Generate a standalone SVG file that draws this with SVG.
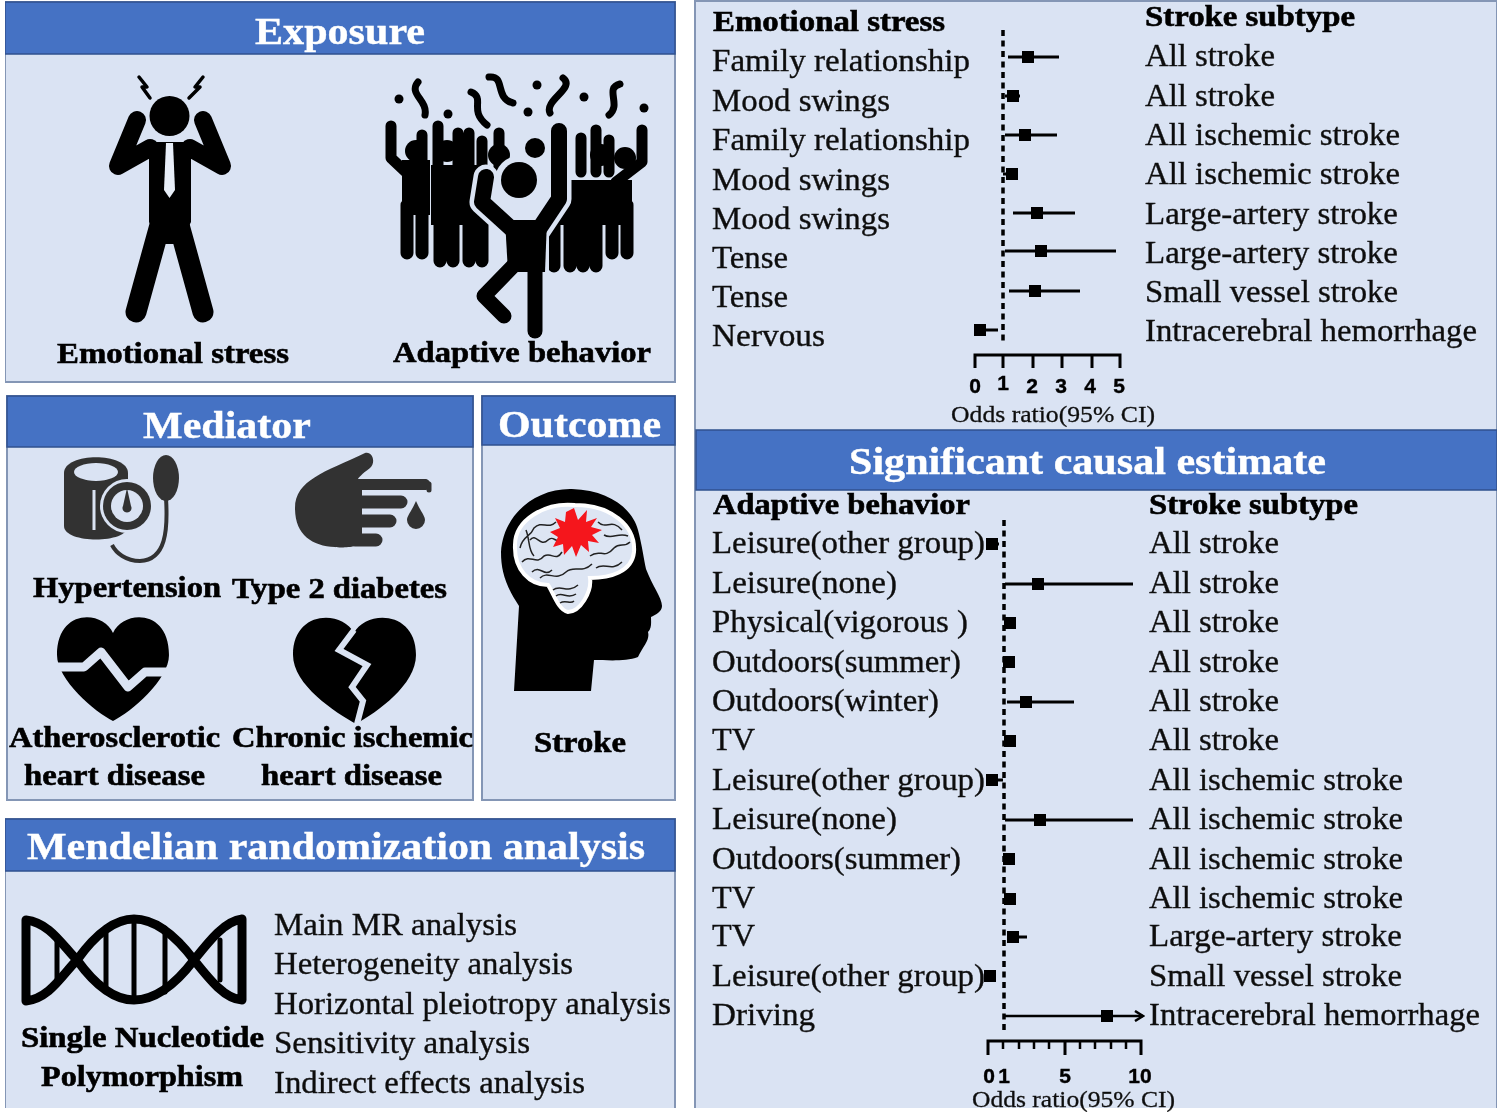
<svg xmlns="http://www.w3.org/2000/svg" width="1497" height="1112" viewBox="0 0 1497 1112">
<style>
.body{fill:#dae3f3;stroke:#8496b5;stroke-width:2}
.head{fill:#4472c4;stroke:#2f528f;stroke-width:1.5}
text{font-family:"Liberation Serif","Times New Roman",serif}
.h{font-weight:700;font-size:38px;fill:#fff;stroke:#fff;stroke-width:.4}
.b{font-weight:700;font-size:30px;fill:#000;stroke:#000;stroke-width:.6}
.r{font-size:31px;fill:#111;stroke:#111;stroke-width:.35;transform:translateY(1px)}
.t{font-family:"Liberation Sans",Arial,sans-serif;font-weight:700;font-size:21px;fill:#000;stroke:#000;stroke-width:.4;text-anchor:middle}
.o{font-size:23px;fill:#111;stroke:#111;stroke-width:.3}
.k{fill:none;stroke:#000;stroke-linecap:round;stroke-linejoin:round}
.g{fill:none;stroke:#dae3f3;stroke-linecap:round;stroke-linejoin:round}
.ci{stroke:#000;stroke-width:3;fill:none}
.dash{stroke:#000;stroke-width:3.500;stroke-dasharray:6 4.5;fill:none}
.ax{stroke:#000;stroke-width:3;fill:none}
</style>
<defs>
<filter id="soft" x="0" y="0" width="1" height="1"><feGaussianBlur stdDeviation="0.75"/></filter>
<marker id="open" markerWidth="12" markerHeight="12" refX="10" refY="6" orient="auto" markerUnits="userSpaceOnUse"><path d="M2,1 L10,6 L2,11" fill="none" stroke="#000" stroke-width="2.500"/></marker>
</defs>
<rect width="1497" height="1112" fill="#fff"/>
<g filter="url(#soft)">
<g id="exposure">
<rect class="body" x="5" y="2" width="670" height="380"/>
<rect class="head" x="5" y="2" width="670" height="52"/>
<text class="h" x="255" y="44" textLength="170" lengthAdjust="spacingAndGlyphs">Exposure</text>
<g id="icon-stress">
<circle cx="169.500" cy="116" r="20"/>
<path d="M149,142H191V222L180,244H160L149,222Z"/>
<path class="k" stroke-width="18" d="M137,120L118,166L150,148M203,120L222,166L190,148"/>
<path class="k" stroke-width="21" d="M160,225L136,312M179,225L203,312"/>
<path d="M166,143H173L175,190L169.500,198L164,190Z" fill="#e8eef8"/>
<path class="k" stroke-width="3.500" d="M139,77L147,87L142,87L150,98M203,77L195,87L200,87L189,98"/>
</g>
<g id="icon-crowd">
<circle cx="399" cy="99" r="4.500"/><circle cx="448" cy="114" r="4.500"/><circle cx="537" cy="85" r="4.500"/><circle cx="528" cy="112" r="4.500"/><circle cx="584" cy="97" r="4.500"/><circle cx="644" cy="108" r="4.500"/>
<path class="k" stroke-width="7" d="M418,82C408,94 428,100 425,115M471,92C486,98 468,110 487,125M489,77C506,75 494,98 513,103M563,78C576,88 544,100 550,113M620,84C604,88 622,105 609,115"/>
<g id="crowd-back">
<circle cx="416" cy="151" r="11"/><circle cx="447" cy="151" r="11"/><circle cx="499" cy="155" r="11"/><circle cx="535" cy="148" r="10"/><circle cx="625" cy="158" r="11"/><circle cx="601" cy="155" r="11"/>
<path d="M402,160H430V215H402ZM431,165H490V225H431ZM550,180H632V225H550Z"/>
<path class="k" stroke-width="11" d="M391,126V158L409,175M422,135V170M438,126V172M458,133V172M469,133V172M482,141V172M499,133V172M581,138V172M596,130V172M609,140V172M642,130V162L616,182"/>
<path class="k" stroke-width="13" d="M407,205V253M422,205V253M440,205V261M453,205V261M469,205V261M482,205V261M554,205V266M570,205V266M583,205V266M596,205V266M612,205V253M627,205V253"/>
</g>
<g id="crowd-front">
<circle cx="519" cy="180" r="24" fill="#dae3f3"/>
<path class="g" stroke-width="25" d="M486,177L482,202L515,232V266L484,296L504,318M559,131V199L537,232"/>
<path d="M500,212H549V270H500Z" fill="#dae3f3"/>
<circle cx="519" cy="180" r="18"/>
<path class="k" stroke-width="16" d="M486,177L482,202L515,232M559,131V199L537,232"/>
<path d="M505,220H547L545,272H508Z"/>
<path class="k" stroke-width="15" d="M535,262V331"/>
<path class="k" stroke-width="15" d="M517,262L484,296L504,316"/>
</g>
</g>
<text class="b" x="57" y="363" textLength="232" lengthAdjust="spacingAndGlyphs">Emotional stress</text>
<text class="b" x="393" y="362" textLength="258" lengthAdjust="spacingAndGlyphs">Adaptive behavior</text>
</g>
<g id="mediator">
<rect class="body" x="7" y="396" width="466" height="404"/>
<rect class="head" x="7" y="396" width="466" height="51"/>
<text class="h" x="143" y="438" textLength="168" lengthAdjust="spacingAndGlyphs">Mediator</text>
<g id="icon-bp" fill="#333">
<path d="M64,473C64,452 128,452 128,473V526C128,544 64,544 64,526Z"/>
<ellipse cx="96" cy="472" rx="22" ry="9" fill="#dae3f3"/>
<path d="M94,490V530" stroke="#dae3f3" stroke-width="3"/>
<circle cx="127" cy="506" r="27" fill="#dae3f3"/>
<circle cx="127" cy="506" r="24"/>
<circle cx="127" cy="506" r="16" fill="#dae3f3"/>
<path d="M127,488L131,506A4.500,4.500 0 1 1 123,506Z"/>
<ellipse cx="166" cy="478" rx="13" ry="23"/>
<path d="M166,498C168,530 166,560 140,561C126,561 116,553 112,545" fill="none" stroke="#333" stroke-width="4"/>
</g>
<g id="icon-hand" fill="#333">
<path d="M295,508C295,480 325,472 365,453C373,451 376,463 370,468C362,474 358,478 358,479H425C432,479 432,490 425,490H362V540C362,548 340,548 335,547C312,546 295,535 295,508Z"/>
<path d="M358,502H401M358,521H390M355,540H376" stroke="#333" stroke-width="13" stroke-linecap="round"/>
<path d="M416,501C411,512 407,516 407,520A9,9 0 0 0 425,520C425,516 421,512 416,501Z"/>
<path d="M429,484V490" stroke="#333" stroke-width="5" stroke-linecap="round"/>
</g>
<g id="icon-heart">
<path d="M113,633C103,610 57,608 57,655C57,680 95,712 113,721C131,712 169,680 169,655C169,608 123,610 113,633Z"/>
<path class="g" stroke-width="9" style="stroke-linecap:butt" d="M52,667H84L101,652L128,687L145,672H175"/>
</g>
<g id="icon-broken-heart">
<path d="M354,633C342,610 293,610 293,655C293,685 335,712 356,724C377,712 416,685 416,655C416,610 366,610 354,633Z"/>
<path class="g" stroke-width="6" style="stroke-linecap:butt;stroke-linejoin:miter" d="M354,630L339,650L367,665L352,687L363,701L356,728"/>
</g>
<text class="b" x="33" y="597" textLength="188" lengthAdjust="spacingAndGlyphs">Hypertension</text>
<text class="b" x="232" y="598" textLength="215" lengthAdjust="spacingAndGlyphs">Type 2 diabetes</text>
<text class="b" x="9" y="747" textLength="211" lengthAdjust="spacingAndGlyphs">Atherosclerotic</text>
<text class="b" x="232" y="747" textLength="241" lengthAdjust="spacingAndGlyphs">Chronic ischemic</text>
<text class="b" x="24" y="785" textLength="181" lengthAdjust="spacingAndGlyphs">heart disease</text>
<text class="b" x="261" y="785" textLength="181" lengthAdjust="spacingAndGlyphs">heart disease</text>
</g>
<g id="outcome">
<rect class="body" x="482" y="396" width="193" height="404"/>
<rect class="head" x="482" y="396" width="193" height="49"/>
<text class="h" x="498" y="437" textLength="163" lengthAdjust="spacingAndGlyphs">Outcome</text>
<g id="icon-head">
<path d="M514,691L519,606C505,585 501,570 501,552C503,515 535,488 572,489C610,490 633,510 638,530C642,545 644,560 646,569C652,585 662,598 662,606C662,612 655,615 651,617C651,622 652,628 648,632C650,640 644,645 638,657C625,662 605,660 594,660L591,691Z"/>
<path d="M515,545C515,520 545,502 575,505C610,505 636,525 634,552C632,572 610,578 590,578C592,592 580,612 568,612C558,610 553,592 548,585C530,585 514,570 515,545Z" fill="#dde5f3" stroke="#fff" stroke-width="4"/>
<path d="M520,548C523,535 530,538 534,528C542,520 548,530 556,522M522,562C530,553 536,566 544,556C552,552 556,562 562,552M532,572C540,564 544,578 552,570M540,578C548,570 556,582 566,572C574,565 582,574 592,564M530,540C536,532 540,548 548,540C554,534 556,546 564,538M590,556C600,548 604,560 614,548C620,542 624,548 630,542M598,522C606,530 612,518 622,530M604,535C612,540 618,532 628,536M596,568C604,562 612,572 622,562M553,590C560,584 568,594 578,585M556,596C562,591 568,600 576,594M560,603C566,599 570,605 574,601M526,530C530,540 528,550 534,556" fill="none" stroke="#222" stroke-width="1.500"/>
<path d="M574,508L578,520L587,510L586,522L597,518L591,527L602,530L592,535L599,543L588,541L589,552L581,545L576,557L572,546L564,555L563,544L553,547L558,537L550,532L560,528L555,518L565,522L566,512Z" fill="#f5121b"/>
</g>
<text class="b" x="534" y="752" textLength="92" lengthAdjust="spacingAndGlyphs">Stroke</text>
</g>
<g id="mr-analysis">
<path class="body" d="M5,1108V819H675V1108"/>
<rect class="head" x="5" y="819" width="670" height="52"/>
<text class="h" x="27" y="859" textLength="618" lengthAdjust="spacingAndGlyphs">Mendelian randomization analysis</text>
<g id="icon-dna">
<path class="k" stroke-width="9" d="M26,920C50,923 62,945 77,960C95,985 115,1000 134,1000C155,1000 175,985 194,960C210,940 225,921 242,919M26,1001C50,998 62,975 77,960C95,935 115,919 134,919C155,919 175,935 194,960C210,980 225,999 242,1000M26,920V1001M242,919V1000"/>
<path class="k" stroke-width="5" d="M57,940V980M106,928V992M134,919V1000M165,928V992M220,940V980"/>
</g>
<text class="b" x="21" y="1047" textLength="243" lengthAdjust="spacingAndGlyphs">Single Nucleotide</text>
<text class="b" x="41" y="1086" textLength="202" lengthAdjust="spacingAndGlyphs">Polymorphism</text>
<text class="r" x="274" y="934" textLength="243" lengthAdjust="spacingAndGlyphs">Main MR analysis</text>
<text class="r" x="274" y="973" textLength="299" lengthAdjust="spacingAndGlyphs">Heterogeneity analysis</text>
<text class="r" x="274" y="1013" textLength="397" lengthAdjust="spacingAndGlyphs">Horizontal pleiotropy analysis</text>
<text class="r" x="274" y="1052" textLength="256" lengthAdjust="spacingAndGlyphs">Sensitivity analysis</text>
<text class="r" x="274" y="1092" textLength="311" lengthAdjust="spacingAndGlyphs">Indirect effects analysis</text>
</g>
<g id="estimate-panel">
<path class="body" d="M695,1108V1H1497V1108"/>
<rect class="head" x="696" y="430" width="801" height="60"/>
<text class="h" x="849" y="474" textLength="477" lengthAdjust="spacingAndGlyphs">Significant causal estimate</text>
</g>
<g id="forest-emotional">
<text class="b" x="713" y="31" textLength="232" lengthAdjust="spacingAndGlyphs">Emotional stress</text>
<text class="b" x="1145" y="26" textLength="210" lengthAdjust="spacingAndGlyphs">Stroke subtype</text>
<text class="r" x="712" y="70" textLength="258" lengthAdjust="spacingAndGlyphs">Family relationship</text>
<text class="r" x="712" y="110" textLength="178" lengthAdjust="spacingAndGlyphs">Mood swings</text>
<text class="r" x="712" y="149" textLength="258" lengthAdjust="spacingAndGlyphs">Family relationship</text>
<text class="r" x="712" y="189" textLength="178" lengthAdjust="spacingAndGlyphs">Mood swings</text>
<text class="r" x="712" y="228" textLength="178" lengthAdjust="spacingAndGlyphs">Mood swings</text>
<text class="r" x="712" y="267" textLength="76" lengthAdjust="spacingAndGlyphs">Tense</text>
<text class="r" x="712" y="306" textLength="76" lengthAdjust="spacingAndGlyphs">Tense</text>
<text class="r" x="712" y="345" textLength="113" lengthAdjust="spacingAndGlyphs">Nervous</text>
<text class="r" x="1145" y="65" textLength="130" lengthAdjust="spacingAndGlyphs">All stroke</text>
<text class="r" x="1145" y="105" textLength="130" lengthAdjust="spacingAndGlyphs">All stroke</text>
<text class="r" x="1145" y="144" textLength="255" lengthAdjust="spacingAndGlyphs">All ischemic stroke</text>
<text class="r" x="1145" y="183" textLength="255" lengthAdjust="spacingAndGlyphs">All ischemic stroke</text>
<text class="r" x="1145" y="223" textLength="253" lengthAdjust="spacingAndGlyphs">Large-artery stroke</text>
<text class="r" x="1145" y="262" textLength="253" lengthAdjust="spacingAndGlyphs">Large-artery stroke</text>
<text class="r" x="1145" y="301" textLength="253" lengthAdjust="spacingAndGlyphs">Small vessel stroke</text>
<text class="r" x="1145" y="340" textLength="332" lengthAdjust="spacingAndGlyphs">Intracerebral hemorrhage</text>
<path class="dash" d="M1003,30V345"/>
<path class="ci" d="M1008,57H1059M1005,96H1020M1005,135H1057M1003,174H1018M1013,213H1075M1005,251H1116M1009,291H1080M977,330H998"/>
<path d="M1022,51h12v12h-12zM1007,90h12v12h-12zM1019,129h12v12h-12zM1006,168h12v12h-12zM1031,207h12v12h-12zM1035,245h12v12h-12zM1029,285h12v12h-12zM974,324h12v12h-12z"/>
<path class="ax" d="M975,368V355H1120V368M1003,355V368M1033,355V368M1062,355V368M1092,355V368"/>
<text class="t" x="975" y="393">0</text><text class="t" x="1003" y="390">1</text><text class="t" x="1032" y="393">2</text><text class="t" x="1061" y="393">3</text><text class="t" x="1090" y="393">4</text><text class="t" x="1119" y="393">5</text>
<text class="o" x="951" y="422" textLength="204" lengthAdjust="spacingAndGlyphs">Odds ratio(95% CI)</text>
</g>
<g id="forest-adaptive">
<text class="b" x="713" y="514" textLength="257" lengthAdjust="spacingAndGlyphs">Adaptive behavior</text>
<text class="b" x="1149" y="514" textLength="209" lengthAdjust="spacingAndGlyphs">Stroke subtype</text>
<text class="r" x="712" y="552" textLength="273" lengthAdjust="spacingAndGlyphs">Leisure(other group)</text>
<text class="r" x="712" y="592" textLength="185" lengthAdjust="spacingAndGlyphs">Leisure(none)</text>
<text class="r" x="712" y="631" textLength="256" lengthAdjust="spacingAndGlyphs">Physical(vigorous )</text>
<text class="r" x="712" y="671" textLength="249" lengthAdjust="spacingAndGlyphs">Outdoors(summer)</text>
<text class="r" x="712" y="710" textLength="227" lengthAdjust="spacingAndGlyphs">Outdoors(winter)</text>
<text class="r" x="712" y="749" textLength="43" lengthAdjust="spacingAndGlyphs">TV</text>
<text class="r" x="712" y="789" textLength="273" lengthAdjust="spacingAndGlyphs">Leisure(other group)</text>
<text class="r" x="712" y="828" textLength="185" lengthAdjust="spacingAndGlyphs">Leisure(none)</text>
<text class="r" x="712" y="868" textLength="249" lengthAdjust="spacingAndGlyphs">Outdoors(summer)</text>
<text class="r" x="712" y="907" textLength="43" lengthAdjust="spacingAndGlyphs">TV</text>
<text class="r" x="712" y="945" textLength="43" lengthAdjust="spacingAndGlyphs">TV</text>
<text class="r" x="712" y="985" textLength="273" lengthAdjust="spacingAndGlyphs">Leisure(other group)</text>
<text class="r" x="712" y="1024" textLength="103" lengthAdjust="spacingAndGlyphs">Driving</text>
<text class="r" x="1149" y="552" textLength="130" lengthAdjust="spacingAndGlyphs">All stroke</text>
<text class="r" x="1149" y="592" textLength="130" lengthAdjust="spacingAndGlyphs">All stroke</text>
<text class="r" x="1149" y="631" textLength="130" lengthAdjust="spacingAndGlyphs">All stroke</text>
<text class="r" x="1149" y="671" textLength="130" lengthAdjust="spacingAndGlyphs">All stroke</text>
<text class="r" x="1149" y="710" textLength="130" lengthAdjust="spacingAndGlyphs">All stroke</text>
<text class="r" x="1149" y="749" textLength="130" lengthAdjust="spacingAndGlyphs">All stroke</text>
<text class="r" x="1149" y="789" textLength="254" lengthAdjust="spacingAndGlyphs">All ischemic stroke</text>
<text class="r" x="1149" y="828" textLength="254" lengthAdjust="spacingAndGlyphs">All ischemic stroke</text>
<text class="r" x="1149" y="868" textLength="254" lengthAdjust="spacingAndGlyphs">All ischemic stroke</text>
<text class="r" x="1149" y="907" textLength="254" lengthAdjust="spacingAndGlyphs">All ischemic stroke</text>
<text class="r" x="1149" y="945" textLength="253" lengthAdjust="spacingAndGlyphs">Large-artery stroke</text>
<text class="r" x="1149" y="985" textLength="253" lengthAdjust="spacingAndGlyphs">Small vessel stroke</text>
<text class="r" x="1149" y="1024" textLength="331" lengthAdjust="spacingAndGlyphs">Intracerebral hemorrhage</text>
<path class="dash" d="M1004,520V1034"/>
<path class="ci" d="M987,544H999M1005,584H1133M1005,623H1015M1005,662H1013M1007,702H1074M1005,741H1015M987,780H1003M1005,820H1133M1005,859H1013M1005,899H1015M1008,937H1027M985,976H995"/>
<path class="ci" d="M1005,1016H1143" style="stroke-width:2.5" marker-end="url(#open)"/>
<path d="M986,538h12v12h-12zM1032,578h12v12h-12zM1004,617h12v12h-12zM1003,656h12v12h-12zM1020,696h12v12h-12zM1004,735h12v12h-12zM986,774h12v12h-12zM1034,814h12v12h-12zM1003,853h12v12h-12zM1004,893h12v12h-12zM1007,931h12v12h-12zM984,970h12v12h-12zM1101,1010h12v12h-12z"/>
<path class="ax" d="M988,1055V1041H1141V1055M1065,1041V1055"/>
<path class="ax" style="stroke-width:2.500" d="M1003,1041v8M1019,1041v8M1034,1041v8M1049,1041v8M1080,1041v8M1095,1041v8M1111,1041v8M1126,1041v8"/>
<text class="t" x="989" y="1083">0</text><text class="t" x="1004" y="1083">1</text><text class="t" x="1065" y="1083">5</text><text class="t" x="1140" y="1083">10</text>
<text class="o" x="972" y="1107" textLength="203" lengthAdjust="spacingAndGlyphs">Odds ratio(95% CI)</text>
</g>
</g>
</svg>
